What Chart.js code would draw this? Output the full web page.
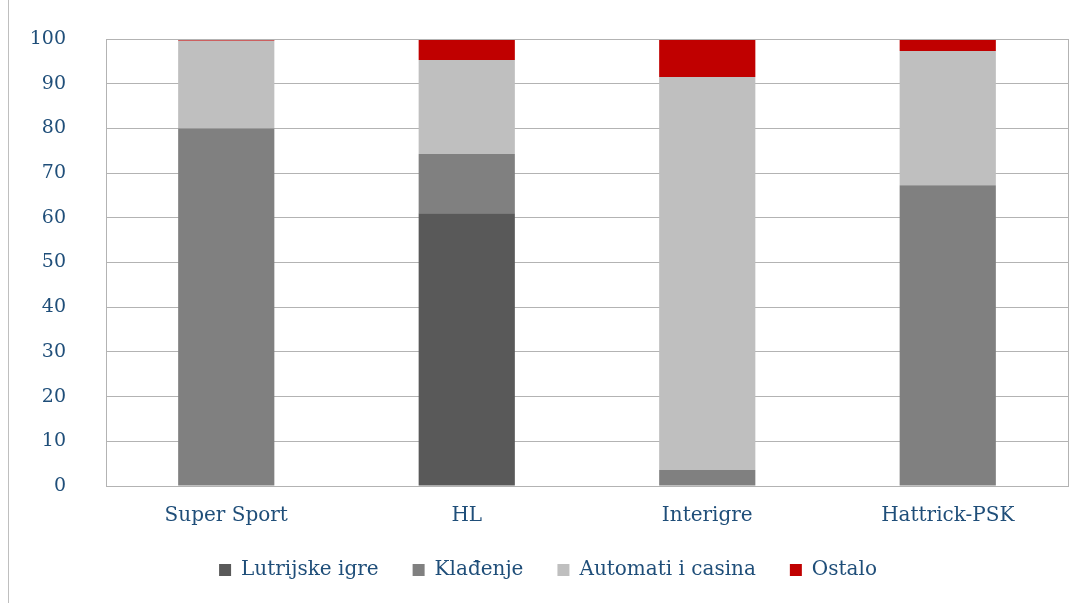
<!DOCTYPE html>
<html>
<head>
<meta charset="utf-8">
<script src="https://cdn.jsdelivr.net/npm/chart.js@4/dist/chart.umd.min.js"></script>
<style>
  html, body { margin: 0; padding: 0; background: #fff; }
  #wrap { position: relative; width: 1083px; height: 603px; }
  #wrap::before { content: ''; position: absolute; left: 8px; top: 0; bottom: 0; border-left: 1px solid #bfbfbf; }
</style>
</head>
<body>
<div id="wrap"><canvas id="udjeli"></canvas></div>
<script>
// Struktura prihoda po priređivačima (%), očitano s grafikona.

const tekst = '#1F4E79';
const font = 'DejaVu Serif';

const priredjivaci = ['Super Sport', 'HL', 'Interigre', 'Hattrick-PSK'];
const lutrijskeIgre = [0, 61, 0, 0];
const kladjenje = [80, 13.3, 3.6, 67.3];
const automati = [19.6, 21, 87.9, 30];
const ostalo = [0.4, 4.7, 8.5, 2.7];

// okvir oko područja grafikona
const okvir = {
  id: 'okvir',
  afterDraw(chart) {
    const { ctx, chartArea: a } = chart;
    ctx.save();
    ctx.strokeStyle = '#b3b3b3';
    ctx.lineWidth = 1;
    ctx.strokeRect(a.left + 0.5, a.top + 0.5, a.right - a.left, a.bottom - a.top);
    ctx.restore();
  },
};

const stupac = (label, data, boja) => ({
  label, data, backgroundColor: boja, borderWidth: 0,
  barPercentage: 0.4, categoryPercentage: 1,
});

new Chart(document.getElementById('udjeli'), {
  type: 'bar',
  data: {
    labels: priredjivaci,
    datasets: [
      stupac('Lutrijske igre', lutrijskeIgre, '#595959'),
      stupac('Klađenje', kladjenje, '#808080'),
      stupac('Automati i casina', automati, '#bfbfbf'),
      stupac('Ostalo', ostalo, '#c00000'),
    ],
  },
  options: {
    responsive: true,
    maintainAspectRatio: false,
    animation: false,
    layout: { padding: { top: 39, right: 15, left: 28, bottom: 13 } },
    plugins: {
      legend: {
        position: 'bottom',
        labels: {
          color: tekst,
          font: { family: font, size: 20 },
          boxWidth: 12,
          boxHeight: 12,
          padding: 34,
        },
      },
      tooltip: { enabled: false },
    },
    scales: {
      x: {
        stacked: true,
        grid: { display: false },
        border: { color: '#b3b3b3' },
        ticks: { color: tekst, font: { family: font, size: 20 }, padding: 10 },
        afterFit: (s) => { s.height = 40; },
      },
      y: {
        stacked: true,
        min: 0,
        max: 100,
        grid: { color: '#b3b3b3', drawTicks: false },
        border: { display: false },
        ticks: { stepSize: 10, color: tekst, font: { family: font, size: 19 }, padding: 40 },
        // širina osi fiksna, bez dodatnog razmaka iznad i ispod
        afterFit: (s) => { s.width = 78; s.paddingTop = 0; s.paddingBottom = 0; },
      },
    },
  },
  plugins: [okvir],
});
</script>
</body>
</html>
